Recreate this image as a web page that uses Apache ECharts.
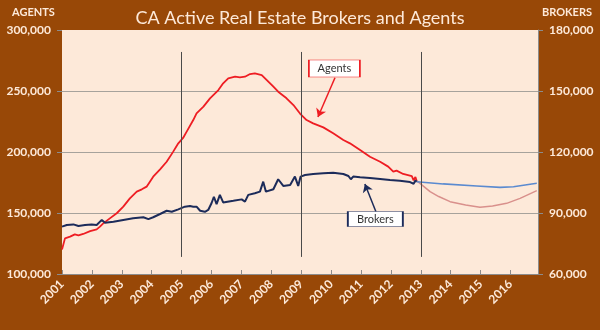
<!DOCTYPE html>
<html>
<head>
<meta charset="utf-8">
<script src="https://cdn.jsdelivr.net/npm/echarts@6/dist/echarts.min.js"></script>
<style>
html,body{margin:0;padding:0;background:#984807;}
#chart{width:600px;height:330px;}
</style>
</head>
<body>
<div id="chart"></div>
<script>
// ---- data ----
const titleText = 'CA Active Real Estate Brokers and Agents';
const leftAxisName = 'AGENTS';
const rightAxisName = 'BROKERS';
const yearTicks = [2001, 2002, 2003, 2004, 2005, 2006, 2007, 2008, 2009, 2010, 2011, 2012, 2013, 2014, 2015, 2016];
const dividerYears = [2005, 2009, 2013];

const agents = [
  [2001.00,120000],[2001.10,129200],[2001.27,130600],[2001.43,132500],[2001.55,131700],[2001.71,132800],
  [2001.94,135200],[2002.16,136600],[2002.27,138800],[2002.38,141500],[2002.60,145600],[2002.83,149800],
  [2003.05,155200],[2003.27,162000],[2003.50,167500],[2003.67,169400],[2003.83,171600],[2004.05,179800],
  [2004.28,185800],[2004.50,192000],[2004.72,200300],[2004.89,207100],[2005.05,211500],[2005.17,216700],
  [2005.39,226200],[2005.50,231700],[2005.73,237200],[2005.95,244000],[2006.23,250800],[2006.39,256300],
  [2006.56,260400],[2006.79,261700],[2006.95,261200],[2007.12,261700],[2007.29,263900],[2007.45,264500],
  [2007.68,263100],[2007.85,259000],[2008.07,253500],[2008.23,249400],[2008.51,244000],[2008.74,238500],
  [2008.96,231500],[2009.18,226200],[2009.40,223500],[2009.74,220200],[2010.07,215300],[2010.41,209800],
  [2010.63,207100],[2010.97,201600],[2011.30,196100],[2011.64,192000],[2011.91,188000],[2012.08,183900],
  [2012.19,184700],[2012.41,182000],[2012.70,180300],[2012.76,176800],[2012.82,179500],[2012.86,176500]
];
const agentsProjection = [
  [2012.86,176500],[2013.31,167500],[2013.60,163500],[2013.98,159300],[2014.50,156500],[2014.98,154700],
  [2015.40,155800],[2015.87,157900],[2016.32,162000],[2016.88,168300]
];
const brokers = [
  [2001.00,83300],[2001.16,84100],[2001.38,84400],[2001.55,83600],[2001.77,84100],[2001.99,84400],
  [2002.16,84100],[2002.33,86600],[2002.44,85200],[2002.72,85700],[2003.05,86600],[2003.38,87400],
  [2003.72,87900],[2003.89,87000],[2004.05,87900],[2004.28,89500],[2004.50,91100],[2004.67,90600],
  [2004.89,91800],[2005.11,93100],[2005.28,93400],[2005.39,93100],[2005.50,93100],[2005.62,91100],
  [2005.78,90600],[2005.89,91500],[2006.00,94800],[2006.08,98000],[2006.17,94400],[2006.28,98900],
  [2006.39,95200],[2006.73,96000],[2007.01,96700],[2007.12,95600],[2007.23,98900],[2007.45,99700],
  [2007.62,100500],[2007.73,105400],[2007.82,100500],[2008.07,101700],[2008.23,106600],[2008.40,103300],
  [2008.63,103800],[2008.79,107900],[2008.90,103300],[2008.98,107900],[2009.13,108700],[2009.40,109200],
  [2009.74,109500],[2010.07,109800],[2010.41,109200],[2010.58,108200],[2010.66,106600],[2010.74,107900],
  [2010.97,107600],[2011.30,107200],[2011.64,106700],[2011.97,106200],[2012.30,105900],[2012.64,105200],
  [2012.76,104400],[2012.82,106000],[2012.86,105400]
];
const brokersProjection = [
  [2012.86,105400],[2013.75,104300],[2014.87,103300],[2015.65,102600],[2016.10,102900],[2016.88,104600]
];
// annotation anchors (data coordinates)
const agentsNote = {label: 'Agents', box: [2010.11, 268400], from: [2010.13, 260800], to: [2009.56, 228700]};
const brokersNote = {label: 'Brokers', box: [2011.48, 87000], from: [2011.50, 90600], to: [2011.13, 104300]};
const dividerSpan = [114000, 282000];

// ---- chart ----
const cream = '#FDE9D9';
const brown = '#984807';
const red = '#ee1d23';
const navy = '#1c2b5a';
const fmt = v => v.toLocaleString('en-US');
const font = 'Lato';

const chart = echarts.init(document.getElementById('chart'), null, {renderer: 'canvas'});
chart.setOption({
  backgroundColor: brown,
  animation: false,
  textStyle: {fontFamily: font},
  title: {
    text: titleText, left: 'center', top: 4,
    textStyle: {color: cream, fontSize: 18, fontWeight: 'normal', fontFamily: font}
  },
  graphic: [
    {type: 'text', left: 12, top: 7, style: {text: leftAxisName, fill: cream, font: 'bold 11px Lato'}},
    {type: 'text', right: 8, top: 7, style: {text: rightAxisName, fill: cream, font: 'bold 11px Lato'}}
  ],
  grid: {left: 62, right: 62, top: 30, bottom: 56, show: true, backgroundColor: cream, borderWidth: 0},
  xAxis: {
    type: 'value', min: 2001, max: 2016.92, interval: 1,
    axisLine: {show: true, lineStyle: {color: '#8c8c8c'}},
    axisTick: {show: true, inside: true, length: 4, lineStyle: {color: '#8c8c8c'}},
    splitLine: {show: false},
    axisLabel: {
      rotate: 45, color: cream, fontWeight: 'bold', fontSize: 12, margin: 8, fontFamily: font,
      showMaxLabel: false,
      formatter: v => (yearTicks.indexOf(v) >= 0 ? String(v) : '')
    }
  },
  yAxis: [
    {
      type: 'value', min: 100000, max: 300000, interval: 50000,
      axisLine: {show: false},
      axisTick: {show: true, length: 5, lineStyle: {color: '#8c8c8c'}},
      splitLine: {show: true, showMaxLine: false, lineStyle: {color: '#a6a29c', width: 1}},
      axisLabel: {color: cream, fontWeight: 'bold', fontSize: 12, margin: 11, formatter: fmt, fontFamily: font}
    },
    {
      type: 'value', min: 60000, max: 180000, interval: 30000, position: 'right',
      axisLine: {show: true, lineStyle: {color: '#8c8c8c'}},
      axisTick: {show: true, length: 5, lineStyle: {color: '#8c8c8c'}},
      splitLine: {show: false},
      axisLabel: {color: cream, fontWeight: 'bold', fontSize: 12, margin: 11, formatter: fmt, fontFamily: font}
    }
  ],
  series: [
    {
      name: 'dividers', type: 'line', data: [], z: 1, yAxisIndex: 0,
      markLine: {
        silent: true, symbol: ['none', 'none'], label: {show: false},
        lineStyle: {color: '#4a4a4a', width: 1, type: 'solid'},
        data: dividerYears.map(y => [{coord: [y, dividerSpan[1]]}, {coord: [y, dividerSpan[0]]}])
      }
    },
    {
      name: 'Agents projection', type: 'line', data: agentsProjection, yAxisIndex: 0,
      showSymbol: false, lineStyle: {color: '#d9908c', width: 1.5}, z: 2
    },
    {
      name: 'Brokers projection', type: 'line', data: brokersProjection, yAxisIndex: 1,
      showSymbol: false, lineStyle: {color: '#5a8ad0', width: 1.6}, z: 2
    },
    {
      name: 'Agents', type: 'line', data: agents, yAxisIndex: 0, showSymbol: false,
      lineStyle: {color: red, width: 1.8}, z: 3,
      markLine: {
        silent: true, symbol: ['none', 'arrow'], symbolSize: 8, label: {show: false},
        lineStyle: {color: red, width: 1.5, type: 'solid'},
        data: [[{coord: agentsNote.from}, {coord: agentsNote.to}]]
      },
      markPoint: {
        silent: true, symbol: 'rect', symbolSize: [51, 17],
        itemStyle: {color: '#ffffff', borderColor: red, borderWidth: 1},
        label: {show: true, position: 'inside', color: '#333', fontSize: 11, fontFamily: font, formatter: agentsNote.label},
        data: [{coord: agentsNote.box}]
      }
    },
    {
      name: 'Brokers', type: 'line', data: brokers, yAxisIndex: 1, showSymbol: false,
      lineStyle: {color: navy, width: 2}, z: 3,
      markLine: {
        silent: true, symbol: ['none', 'arrow'], symbolSize: 8, label: {show: false},
        lineStyle: {color: navy, width: 1.5, type: 'solid'},
        data: [[{coord: brokersNote.from}, {coord: brokersNote.to}]]
      },
      markPoint: {
        silent: true, symbol: 'rect', symbolSize: [55, 15],
        itemStyle: {color: '#ffffff', borderColor: navy, borderWidth: 1},
        label: {show: true, position: 'inside', color: '#333', fontSize: 11, fontFamily: font, formatter: brokersNote.label},
        data: [{coord: brokersNote.box}]
      }
    }
  ]
});
</script>
</body>
</html>
